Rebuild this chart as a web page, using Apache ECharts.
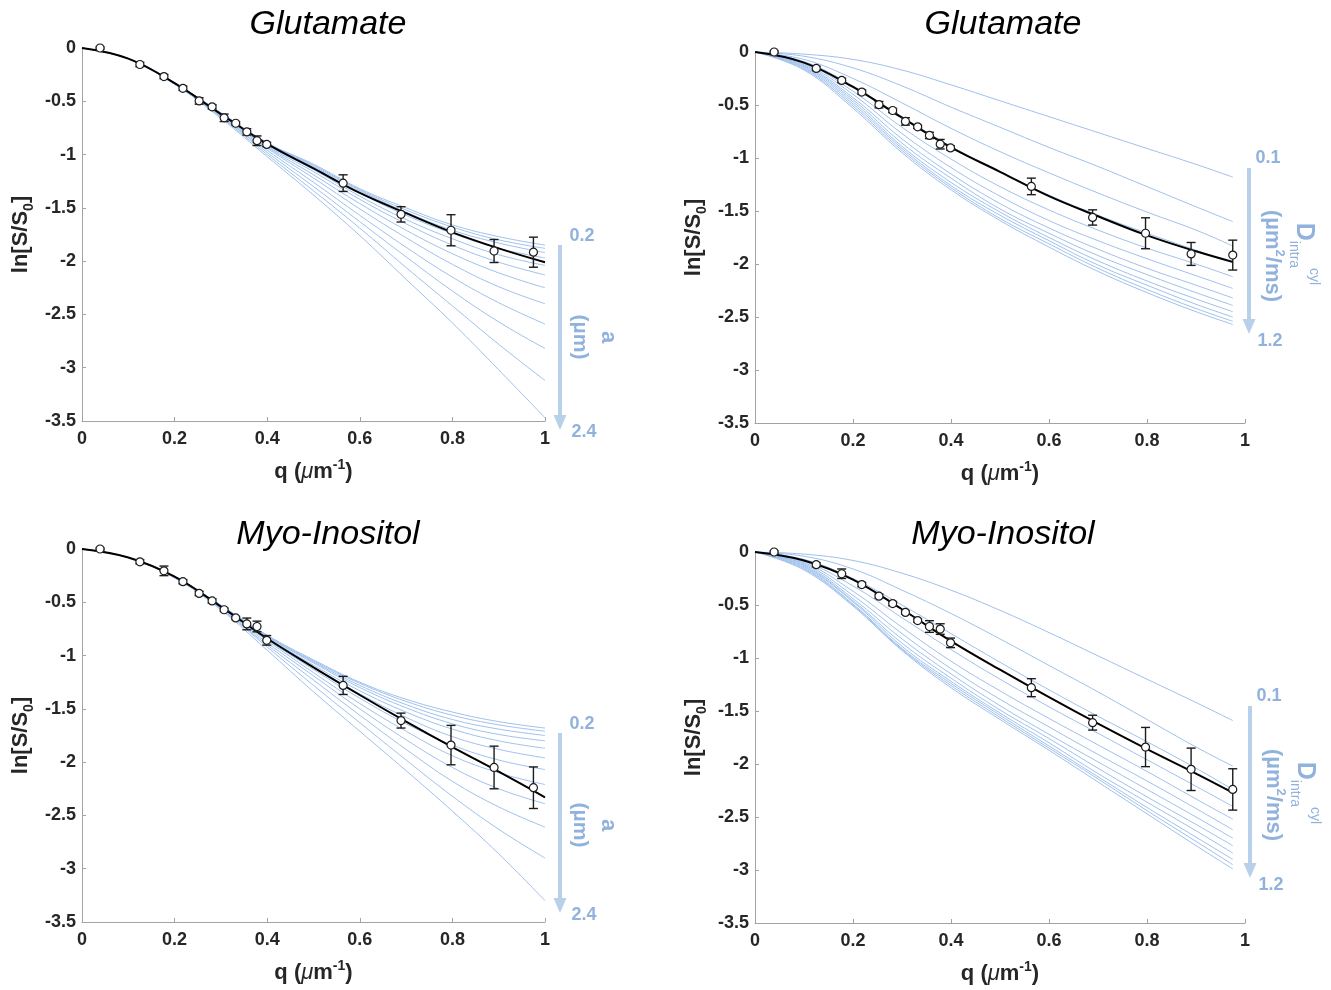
<!DOCTYPE html>
<html>
<head>
<meta charset="utf-8">
<title>ln[S/S0] vs q</title>
<script src="https://cdn.jsdelivr.net/npm/echarts@6/dist/echarts.min.js"></script>
<style>
  html, body { margin: 0; padding: 0; background: #fff; }
  #chart { width: 1331px; height: 990px; }
</style>
</head>
<body>
<div id="chart"></div>
<script>
// measured q values (µm^-1) of the data points
const qData = [0.039, 0.125, 0.177, 0.218, 0.253, 0.281, 0.307, 0.332, 0.356, 0.378, 0.399, 0.564, 0.689, 0.797, 0.890, 0.975];

const gluMean = [0, -0.155, -0.268, -0.378, -0.497, -0.552, -0.655, -0.706, -0.787, -0.870, -0.905, -1.268, -1.561, -1.710, -1.905, -1.916];
const gluErr  = [0.01, 0.02, 0.02, 0.02, 0.03, 0.02, 0.035, 0.015, 0.03, 0.045, 0.02, 0.078, 0.072, 0.146, 0.108, 0.141];

const myoMean = [0, -0.12, -0.205, -0.307, -0.417, -0.487, -0.570, -0.647, -0.703, -0.727, -0.857, -1.280, -1.610, -1.840, -2.050, -2.240];
const myoErr  = [0.01, 0.02, 0.045, 0.02, 0.02, 0.02, 0.015, 0.015, 0.055, 0.05, 0.045, 0.085, 0.07, 0.185, 0.2, 0.195];

// q grid of the model curves (left panels run to 1, right panels to the last point)
const qGrid  = [0, 0.1, 0.2, 0.3, 0.4, 0.5, 0.6, 0.7, 0.8, 0.9, 1.0];
const qGridR = [0, 0.1, 0.2, 0.3, 0.4, 0.5, 0.6, 0.7, 0.8, 0.9, 0.975];

// black best fits
const gluFit  = [0, -0.10, -0.33, -0.62, -0.90, -1.13, -1.36, -1.55, -1.73, -1.88, -2.01];
const gluFitR = [0, -0.10, -0.33, -0.62, -0.90, -1.13, -1.36, -1.55, -1.73, -1.88, -1.98];
const myoFit  = [0, -0.08, -0.26, -0.54, -0.84, -1.11, -1.37, -1.62, -1.86, -2.09, -2.33];
const myoFitR = [0, -0.08, -0.26, -0.54, -0.84, -1.11, -1.37, -1.62, -1.86, -2.09, -2.27];

// blue curves, cylinder diameter a = 0.2 ... 2.4 µm
const gluDiamCurves = [
  [0, -0.10, -0.33, -0.61, -0.89, -1.09, -1.32, -1.50, -1.66, -1.77, -1.85],
  [0, -0.10, -0.33, -0.61, -0.89, -1.10, -1.33, -1.52, -1.68, -1.80, -1.88],
  [0, -0.10, -0.33, -0.61, -0.89, -1.11, -1.34, -1.54, -1.71, -1.83, -1.92],
  [0, -0.10, -0.33, -0.61, -0.90, -1.12, -1.36, -1.57, -1.74, -1.88, -1.97],
  [0, -0.10, -0.33, -0.62, -0.91, -1.14, -1.39, -1.61, -1.79, -1.94, -2.04],
  [0, -0.10, -0.33, -0.62, -0.92, -1.16, -1.42, -1.65, -1.85, -2.01, -2.13],
  [0, -0.10, -0.33, -0.63, -0.93, -1.19, -1.46, -1.71, -1.93, -2.11, -2.25],
  [0, -0.10, -0.33, -0.63, -0.94, -1.22, -1.51, -1.78, -2.03, -2.24, -2.40],
  [0, -0.10, -0.34, -0.64, -0.96, -1.26, -1.57, -1.87, -2.15, -2.39, -2.59],
  [0, -0.10, -0.34, -0.64, -0.98, -1.30, -1.63, -1.96, -2.28, -2.57, -2.82],
  [0, -0.10, -0.34, -0.65, -1.00, -1.34, -1.69, -2.06, -2.42, -2.78, -3.12],
  [0, -0.10, -0.34, -0.66, -1.02, -1.38, -1.76, -2.17, -2.58, -3.02, -3.47]
];
const myoDiamCurves = [
  [0, -0.08, -0.26, -0.53, -0.81, -1.04, -1.25, -1.41, -1.53, -1.62, -1.68],
  [0, -0.08, -0.26, -0.53, -0.81, -1.05, -1.26, -1.43, -1.56, -1.65, -1.71],
  [0, -0.08, -0.26, -0.53, -0.82, -1.06, -1.28, -1.46, -1.60, -1.69, -1.75],
  [0, -0.08, -0.26, -0.53, -0.82, -1.07, -1.30, -1.49, -1.64, -1.74, -1.80],
  [0, -0.08, -0.26, -0.54, -0.83, -1.09, -1.33, -1.53, -1.69, -1.80, -1.87],
  [0, -0.08, -0.26, -0.54, -0.84, -1.11, -1.36, -1.58, -1.76, -1.88, -1.96],
  [0, -0.08, -0.26, -0.54, -0.85, -1.13, -1.40, -1.64, -1.84, -1.98, -2.07],
  [0, -0.08, -0.26, -0.55, -0.86, -1.16, -1.45, -1.71, -1.94, -2.10, -2.21],
  [0, -0.08, -0.27, -0.55, -0.88, -1.19, -1.50, -1.79, -2.05, -2.25, -2.39],
  [0, -0.08, -0.27, -0.56, -0.90, -1.23, -1.56, -1.88, -2.18, -2.42, -2.61],
  [0, -0.08, -0.27, -0.56, -0.92, -1.28, -1.63, -1.98, -2.32, -2.63, -2.90],
  [0, -0.08, -0.27, -0.57, -0.95, -1.34, -1.71, -2.08, -2.46, -2.86, -3.30]
];

// blue curves, intra-axonal diffusivity D = 0.1 ... 1.2 µm²/ms
const gluDiffCurves = [
  [0, -0.02, -0.07, -0.17, -0.31, -0.46, -0.61, -0.76, -0.91, -1.06, -1.18],
  [0, -0.04, -0.15, -0.32, -0.52, -0.71, -0.90, -1.08, -1.27, -1.46, -1.60],
  [0, -0.07, -0.25, -0.48, -0.72, -0.94, -1.14, -1.33, -1.51, -1.68, -1.83],
  [0, -0.09, -0.32, -0.61, -0.89, -1.13, -1.35, -1.54, -1.71, -1.87, -1.99],
  [0, -0.10, -0.37, -0.71, -1.01, -1.27, -1.49, -1.68, -1.85, -2.00, -2.12],
  [0, -0.11, -0.40, -0.77, -1.09, -1.36, -1.59, -1.78, -1.95, -2.11, -2.23],
  [0, -0.12, -0.43, -0.82, -1.15, -1.43, -1.66, -1.86, -2.04, -2.20, -2.32],
  [0, -0.13, -0.45, -0.86, -1.19, -1.48, -1.71, -1.92, -2.10, -2.27, -2.39],
  [0, -0.14, -0.47, -0.89, -1.23, -1.51, -1.75, -1.97, -2.16, -2.33, -2.45],
  [0, -0.15, -0.49, -0.91, -1.26, -1.54, -1.78, -2.01, -2.20, -2.38, -2.50],
  [0, -0.16, -0.51, -0.93, -1.28, -1.57, -1.81, -2.04, -2.24, -2.42, -2.54],
  [0, -0.17, -0.53, -0.95, -1.30, -1.59, -1.84, -2.07, -2.27, -2.45, -2.57]
];
const myoDiffCurves = [
  [0, -0.02, -0.08, -0.20, -0.36, -0.55, -0.76, -0.98, -1.20, -1.42, -1.59],
  [0, -0.04, -0.16, -0.36, -0.58, -0.82, -1.07, -1.32, -1.58, -1.84, -2.02],
  [0, -0.07, -0.25, -0.50, -0.77, -1.04, -1.30, -1.55, -1.79, -2.04, -2.24],
  [0, -0.09, -0.32, -0.62, -0.92, -1.20, -1.46, -1.71, -1.96, -2.21, -2.40],
  [0, -0.10, -0.37, -0.71, -1.03, -1.31, -1.57, -1.82, -2.07, -2.33, -2.52],
  [0, -0.11, -0.41, -0.77, -1.10, -1.39, -1.65, -1.91, -2.16, -2.42, -2.62],
  [0, -0.12, -0.44, -0.82, -1.15, -1.45, -1.72, -1.98, -2.24, -2.50, -2.70],
  [0, -0.13, -0.46, -0.86, -1.19, -1.49, -1.76, -2.04, -2.31, -2.57, -2.77],
  [0, -0.14, -0.47, -0.89, -1.22, -1.52, -1.80, -2.09, -2.36, -2.63, -2.84],
  [0, -0.15, -0.49, -0.91, -1.24, -1.54, -1.83, -2.12, -2.41, -2.69, -2.90],
  [0, -0.16, -0.50, -0.92, -1.26, -1.56, -1.85, -2.14, -2.44, -2.73, -2.95],
  [0, -0.17, -0.51, -0.93, -1.28, -1.58, -1.87, -2.17, -2.47, -2.77, -2.99]
];

const FONT = '"Liberation Sans", Arial, Helvetica, sans-serif';
const INK = '#262626';
const AXIS = '#a3a3a3';
const BLUE = '#9fc0ec';
const ARROW = '#b9d0eb';
const NOTE = '#91b2dd';

const panels = [
  { title: 'Glutamate', tx: 328, ty: 25, grid: { left: 82, top: 48, width: 463, height: 373 },
    mean: gluMean, err: gluErr, fitQ: qGrid, fit: gluFit, curveQ: qGrid, curves: gluDiamCurves },
  { title: 'Glutamate', tx: 1003, ty: 25, grid: { left: 755, top: 52, width: 490, height: 371 },
    mean: gluMean, err: gluErr, fitQ: qGridR, fit: gluFitR, curveQ: qGridR, curves: gluDiffCurves },
  { title: 'Myo-Inositol', tx: 328, ty: 535, grid: { left: 82, top: 549, width: 463, height: 373 },
    mean: myoMean, err: myoErr, fitQ: qGrid, fit: myoFit, curveQ: qGrid, curves: myoDiamCurves },
  { title: 'Myo-Inositol', tx: 1003, ty: 535, grid: { left: 755, top: 552, width: 490, height: 371 },
    mean: myoMean, err: myoErr, fitQ: qGridR, fit: myoFitR, curveQ: qGridR, curves: myoDiffCurves }
];

const tickLabel = { color: INK, fontFamily: FONT, fontWeight: 'bold', fontSize: 18 };
const nameBase = { fontFamily: FONT, fontWeight: 'bold', fontSize: 22, color: INK, lineHeight: 28 };

function errorBars(i, mean, err) {
  return {
    type: 'custom', xAxisIndex: i, yAxisIndex: i, z: 4, silent: true,
    data: qData.map((q, k) => [q, mean[k] - err[k], mean[k] + err[k]]),
    renderItem: (params, api) => {
      const lo = api.coord([api.value(0), api.value(1)]);
      const hi = api.coord([api.value(0), api.value(2)]);
      const cap = 4.5;
      const style = { stroke: '#1c1c1c', lineWidth: 1.4 };
      return {
        type: 'group',
        children: [
          { type: 'line', shape: { x1: lo[0], y1: lo[1], x2: hi[0], y2: hi[1] }, style },
          { type: 'line', shape: { x1: lo[0] - cap, y1: lo[1], x2: lo[0] + cap, y2: lo[1] }, style },
          { type: 'line', shape: { x1: hi[0] - cap, y1: hi[1], x2: hi[0] + cap, y2: hi[1] }, style }
        ]
      };
    }
  };
}

const series = [];
panels.forEach((p, i) => {
  p.curves.forEach(c => {
    series.push({
      type: 'line', xAxisIndex: i, yAxisIndex: i, silent: true, z: 2,
      symbol: 'none', smooth: 0.4,
      lineStyle: { color: BLUE, width: 1 },
      data: p.curveQ.map((q, k) => [q, c[k]])
    });
  });
  series.push({
    type: 'line', xAxisIndex: i, yAxisIndex: i, silent: true, z: 3,
    symbol: 'none', smooth: 0.4,
    lineStyle: { color: '#000', width: 2 },
    data: p.fitQ.map((q, k) => [q, p.fit[k]])
  });
  series.push(errorBars(i, p.mean, p.err));
  series.push({
    type: 'scatter', xAxisIndex: i, yAxisIndex: i, silent: true, z: 5,
    symbol: 'circle', symbolSize: 8,
    itemStyle: { color: '#fff', borderColor: '#1c1c1c', borderWidth: 1.2, opacity: 1 },
    data: qData.map((q, k) => [q, p.mean[k]])
  });
});

// annotation helpers (arrows and rotated labels at the right of each panel)
function arrow(x, y1, y2) {
  return [
    { type: 'line', silent: true, shape: { x1: x, y1: y1, x2: x, y2: y2 - 12 }, style: { stroke: ARROW, lineWidth: 4 } },
    { type: 'polygon', silent: true, shape: { points: [[x - 6.5, y2 - 15], [x + 6.5, y2 - 15], [x, y2]] }, style: { fill: ARROW } }
  ];
}
function note(text, x, y, opts) {
  opts = opts || {};
  return {
    type: 'text', silent: true, x: x, y: y, rotation: opts.rot || 0,
    style: Object.assign({
      text: text, fill: opts.fill || NOTE,
      font: opts.font || 'bold 18px ' + FONT,
      textAlign: 'center', textVerticalAlign: 'middle'
    }, opts.rich ? { rich: opts.rich } : {})
  };
}
const ROT = -Math.PI / 2;
const dRich = {
  D: { fontSize: 25, fontWeight: 'bold', fontFamily: FONT, lineHeight: 34 },
  sub: { fontSize: 14, fontFamily: FONT, lineHeight: 14, verticalAlign: 'bottom' },
  sup: { fontSize: 14, fontFamily: FONT, lineHeight: 14, verticalAlign: 'top' }
};
const unitRich = {
  t: { fontSize: 22, fontWeight: 'bold', fontFamily: FONT, lineHeight: 28 },
  sup: { fontSize: 13, fontWeight: 'bold', fontFamily: FONT, lineHeight: 14, verticalAlign: 'top' }
};

function diamNote(x, yTop, yTip, yMid) {
  return [].concat(
    arrow(x, yTop, yTip),
    [
      note('0.2', x + 22, yTop - 9),
      note('2.4', x + 24, yTip + 2),
      note('(µm)', x + 20, yMid, { rot: ROT, font: 'bold 21px ' + FONT }),
      note('a', x + 48, yMid, { rot: ROT, font: 'bold 22px ' + FONT })
    ]
  );
}
function diffNote(x, yTop, yTip, yMid) {
  return [].concat(
    arrow(x, yTop, yTip),
    [
      note('0.1', x + 19, yTop - 10),
      note('1.2', x + 21, yTip + 7),
      note('{t|(µm}{sup|2}{t|/ms)}', x + 23, yMid, { rot: ROT, font: 'bold 22px ' + FONT, rich: unitRich }),
      note('{D|D}{sub|intra}{sup|cyl}', x + 55, yMid - 2, { rot: ROT, font: 'bold 22px ' + FONT, rich: dRich })
    ]
  );
}

const graphic = [].concat(
  panels.map(p => note(p.title, p.tx, p.ty, { fill: '#000', font: 'italic 34px ' + FONT })),
  diamNote(560, 245, 430, 337),
  diffNote(1249, 168, 334, 256),
  diamNote(560, 733, 913, 825),
  diffNote(1250, 706, 878, 795)
);

const option = {
  animation: false,
  backgroundColor: '#fff',
  grid: panels.map(p => p.grid),
  xAxis: panels.map((p, i) => ({
    gridIndex: i, type: 'value', min: 0, max: 1, interval: 0.2,
    axisLine: { onZero: false, lineStyle: { color: AXIS, width: 1 } },
    axisTick: { inside: true, length: 4, lineStyle: { color: AXIS } },
    splitLine: { show: false },
    axisLabel: Object.assign({ margin: 9 }, tickLabel),
    name: '{t|q (}{mu|μ}{t|m}{sup|-1}{t|)}',
    nameLocation: 'middle', nameGap: 37,
    nameTextStyle: {
      rich: {
        t: nameBase,
        mu: Object.assign({}, nameBase, { fontWeight: 'normal', fontStyle: 'italic' }),
        sup: { fontFamily: FONT, fontWeight: 'bold', fontSize: 14, color: INK, lineHeight: 14, verticalAlign: 'top' }
      }
    }
  })),
  yAxis: panels.map((p, i) => ({
    gridIndex: i, type: 'value', min: -3.5, max: 0, interval: 0.5,
    axisLine: { onZero: false, lineStyle: { color: AXIS, width: 1 } },
    axisTick: { inside: true, length: 4, lineStyle: { color: AXIS } },
    splitLine: { show: false },
    axisLabel: Object.assign({ margin: 6 }, tickLabel),
    name: '{t|ln[S/S}{sub|0}{t|]}',
    nameLocation: 'middle', nameGap: 46,
    nameTextStyle: {
      rich: {
        t: Object.assign({}, nameBase, { lineHeight: 30 }),
        sub: { fontFamily: FONT, fontWeight: 'bold', fontSize: 14, color: INK, lineHeight: 14, verticalAlign: 'bottom' }
      }
    }
  })),
  series: series,
  graphic: graphic
};

const chart = echarts.init(document.getElementById('chart'));
chart.setOption(option);
</script>
</body>
</html>
